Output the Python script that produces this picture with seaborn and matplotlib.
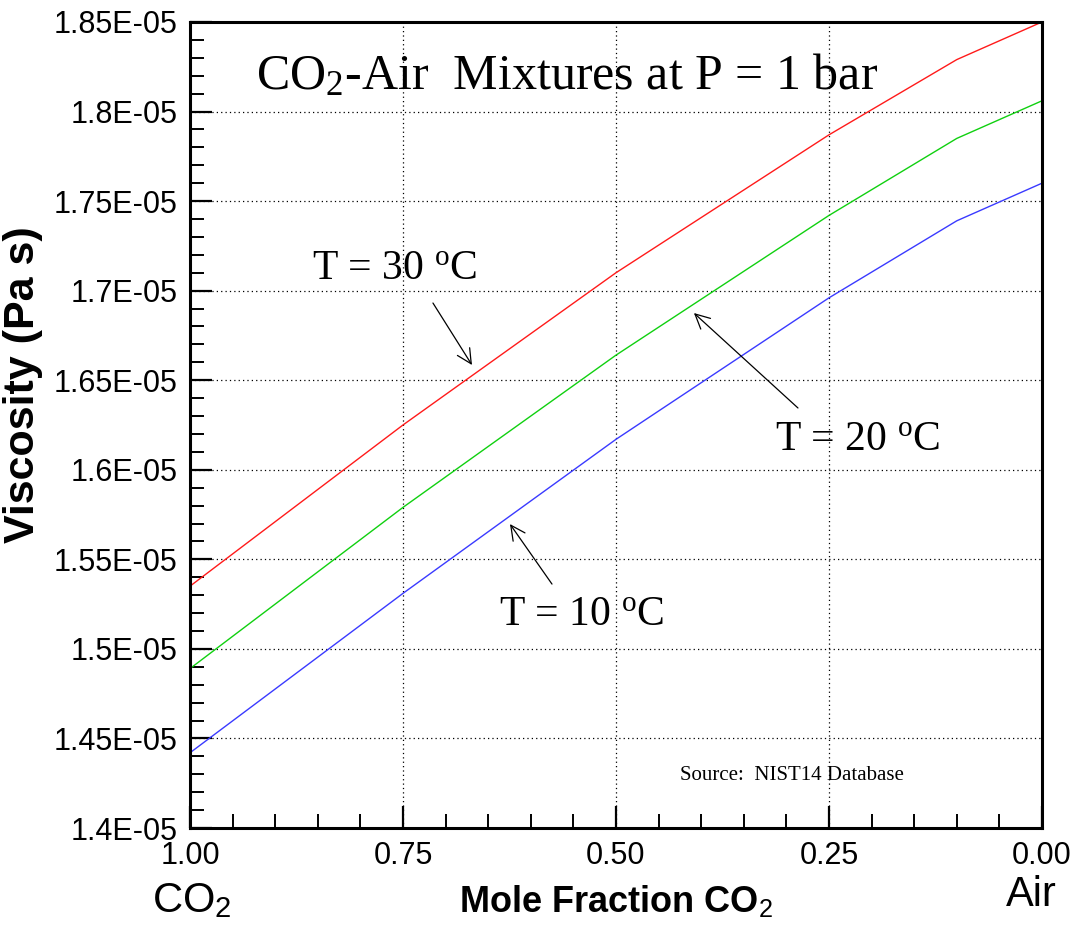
import numpy as np
import pandas as pd
import matplotlib
matplotlib.use("Agg")
import matplotlib.pyplot as plt
import seaborn as sns
from matplotlib.ticker import AutoMinorLocator, FixedLocator, FixedFormatter

# data (viscosity in Pa s)
mole_frac = [1.0, 0.75, 0.5, 0.25, 0.1, 0.0]
visc_30 = [1.535e-5, 1.625e-5, 1.710e-5, 1.787e-5, 1.829e-5, 1.850e-5]
visc_20 = [1.489e-5, 1.579e-5, 1.664e-5, 1.742e-5, 1.785e-5, 1.806e-5]
visc_10 = [1.442e-5, 1.531e-5, 1.617e-5, 1.696e-5, 1.739e-5, 1.760e-5]

series_names = ["T = 30", "T = 20", "T = 10"]
line_colors = ["#ff1a1a", "#10d010", "#3a3aff"]

y_ticks = [1.40e-5, 1.45e-5, 1.50e-5, 1.55e-5, 1.60e-5, 1.65e-5, 1.70e-5, 1.75e-5, 1.80e-5, 1.85e-5]
y_tick_labels = ["1.4E-05", "1.45E-05", "1.5E-05", "1.55E-05", "1.6E-05",
                 "1.65E-05", "1.7E-05", "1.75E-05", "1.8E-05", "1.85E-05"]
x_ticks = [1.0, 0.75, 0.5, 0.25, 0.0]
x_tick_labels = ["1.00", "0.75", "0.50", "0.25", "0.00"]

# long table for seaborn
df = pd.DataFrame({
    "x": mole_frac * 3,
    "visc": visc_30 + visc_20 + visc_10,
    "T": [series_names[0]] * len(mole_frac) + [series_names[1]] * len(mole_frac)
         + [series_names[2]] * len(mole_frac),
})

sns.set_style("white")
plt.rcParams["font.family"] = ["Liberation Sans", "DejaVu Sans"]
plt.rcParams["text.color"] = "black"
plt.rcParams["axes.labelcolor"] = "black"
plt.rcParams["xtick.color"] = "black"
plt.rcParams["ytick.color"] = "black"
plt.rcParams["mathtext.fontset"] = "custom"
plt.rcParams["mathtext.rm"] = "Liberation Serif"
plt.rcParams["mathtext.it"] = "Liberation Serif:italic"
plt.rcParams["mathtext.bf"] = "Liberation Serif:bold"
plt.rcParams["mathtext.sf"] = "Liberation Sans"

fig = plt.figure(figsize=(10.75, 9.35), dpi=100)
ax = fig.add_axes([0.1767, 0.1144, 0.7926, 0.8621])

sns.lineplot(data=df, x="x", y="visc", hue="T", palette=line_colors,
             linewidth=1.0, ax=ax, legend=False, sort=False, estimator=None)

ax.set_xlim(1.0, 0.0)
ax.set_ylim(1.4e-5, 1.85e-5)

ax.yaxis.set_major_locator(FixedLocator(y_ticks))
ax.yaxis.set_major_formatter(FixedFormatter(y_tick_labels))
ax.xaxis.set_major_locator(FixedLocator(x_ticks))
ax.xaxis.set_major_formatter(FixedFormatter(x_tick_labels))
ax.xaxis.set_minor_locator(AutoMinorLocator(5))
ax.yaxis.set_minor_locator(AutoMinorLocator(5))

ax.tick_params(which="both", bottom=True, left=True, top=False, right=False)
ax.tick_params(which="major", direction="in", length=16, width=1.6, color="black")
ax.tick_params(which="minor", direction="in", length=10, width=1.4, color="black")
ax.tick_params(axis="y", which="major", labelsize=22, pad=9)
ax.tick_params(axis="x", which="major", labelsize=22, pad=9)

for s in ax.spines.values():
    s.set_visible(True)
    s.set_linewidth(2.2)
    s.set_color("black")

ax.grid(True, which="major", color="black", linestyle=(0, (1, 2.5)), linewidth=0.9)

ax.set_ylabel("Viscosity (Pa s)", fontsize=31, fontweight="bold")
ax.set_xlabel(r"Mole Fraction CO$_{\mathsf{2}}$", fontsize=26, fontweight="bold", va="top")
ax.yaxis.set_label_coords(-0.172, 0.55)
ax.xaxis.set_label_coords(0.5, -0.071)

# end labels under the x axis
ax.text(0.002, -0.091, r"CO$_{\mathsf{2}}$", transform=ax.transAxes, fontsize=30,
        ha="center", va="center", clip_on=False)
ax.text(0.987, -0.083, "Air", transform=ax.transAxes, fontsize=30,
        ha="center", va="center", clip_on=False)

# title inside the plot
ax.text(0.4425, 0.932, r"CO$_2$-Air  Mixtures at P = 1 bar", transform=ax.transAxes,
        fontsize=36, family="Liberation Serif", ha="center", va="center")

arrow = dict(arrowstyle="->", color="black", linewidth=0.9, mutation_scale=26,
             shrinkA=0, shrinkB=0)

ax.text(0.7594, 1.7124e-5, r"T = 30 $^{\rm o}$C", fontsize=30,
        family="Liberation Serif", ha="center", va="center")
ax.annotate("", xy=(0.669, 1.6585e-5), xytext=(0.7148, 1.6931e-5), arrowprops=arrow)

ax.text(0.216, 1.6166e-5, r"T = 20 $^{\rm o}$C", fontsize=30,
        family="Liberation Serif", ha="center", va="center")
ax.annotate("", xy=(0.4085, 1.6875e-5), xytext=(0.2864, 1.6345e-5), arrowprops=arrow)

ax.text(0.541, 1.5189e-5, r"T = 10 $^{\rm o}$C", fontsize=30,
        family="Liberation Serif", ha="center", va="center")
ax.annotate("", xy=(0.6244, 1.5697e-5), xytext=(0.5751, 1.5362e-5), arrowprops=arrow)

ax.text(0.4249, 1.4296e-5, "Source:  NIST14 Database", fontsize=15,
        family="Liberation Serif", ha="left", va="center")

fig.savefig("out.png", dpi=100)
